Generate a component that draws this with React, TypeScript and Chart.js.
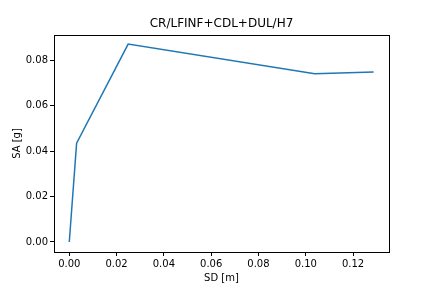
import React, { useEffect, useRef } from "react";
import { Chart, registerables } from "chart.js";

Chart.register(...registerables);

const titleText = "CR/LFINF+CDL+DUL/H7";
const xLabel = "SD [m]";
const yLabel = "SA [g]";
const sdValues = [0.0, 0.0031, 0.0249, 0.1038, 0.1287];
const saValues = [0.0, 0.0434, 0.087, 0.074, 0.0747];

const framePlugin = {
  id: "frame",
  afterDraw(chart: any) {
    const { ctx, chartArea } = chart;
    ctx.save();
    ctx.strokeStyle = "#000000";
    ctx.lineWidth = 1;
    ctx.strokeRect(
      Math.round(chartArea.left) + 0.5,
      Math.round(chartArea.top) + 0.5,
      Math.round(chartArea.right - chartArea.left),
      Math.round(chartArea.bottom - chartArea.top)
    );
    ctx.restore();
  },
};

export default function App() {
  const ref = useRef<HTMLCanvasElement | null>(null);
  useEffect(() => {
    if (!ref.current) return;
    const font = { family: "DejaVu Sans", size: 10 };
    const chart = new Chart(ref.current, {
      type: "line",
      data: {
        datasets: [
          {
            data: sdValues.map((x, i) => ({ x, y: saValues[i] })),
            borderColor: "#1f77b4",
            borderWidth: 1.5,
            pointRadius: 0,
            fill: false,
            tension: 0,
          },
        ],
      },
      options: {
        animation: false,
        responsive: false,
        layout: { padding: { left: 0, right: 43, top: 0, bottom: 0 } },
        plugins: {
          legend: { display: false },
          tooltip: { enabled: false },
          title: {
            display: true,
            text: titleText,
            fullSize: false,
            color: "#000000",
            font: { family: "DejaVu Sans", size: 12, weight: "normal" },
            padding: { top: 17, bottom: 3.6 },
          },
        },
        scales: {
          x: {
            type: "linear",
            min: -0.00646,
            max: 0.1352,
            afterFit: (s: any) => {
              s.height = 36;
            },
            afterBuildTicks: (s: any) => {
              s.ticks = [0, 0.02, 0.04, 0.06, 0.08, 0.1, 0.12].map((v) => ({ value: v }));
            },
            ticks: {
              color: "#000000",
              font,
              padding: 2,
              maxRotation: 0,
              autoSkip: false,
              callback: (v: any) => Number(v).toFixed(2),
            },
            grid: {
              drawOnChartArea: false,
              drawTicks: true,
              tickLength: 4,
              color: "#000000",
            },
            border: { display: true, color: "#000000" },
            title: {
              display: true,
              text: xLabel,
              color: "#000000",
              font,
              padding: { top: 0, bottom: 4 },
            },
          },
          y: {
            type: "linear",
            min: -0.0044,
            max: 0.091,
            afterFit: (s: any) => {
              s.width = 54;
            },
            afterBuildTicks: (s: any) => {
              s.ticks = [0, 0.02, 0.04, 0.06, 0.08].map((v) => ({ value: v }));
            },
            ticks: {
              color: "#000000",
              font,
              padding: 2,
              autoSkip: false,
              callback: (v: any) => Number(v).toFixed(2),
            },
            grid: {
              drawOnChartArea: false,
              drawTicks: true,
              tickLength: 4,
              color: "#000000",
            },
            border: { display: true, color: "#000000" },
            title: {
              display: true,
              text: yLabel,
              color: "#000000",
              font,
              padding: { top: 11, bottom: 0 },
            },
          },
        },
      },
      plugins: [framePlugin],
    } as any);
    return () => chart.destroy();
  }, []);
  return (
    <div style={{ position: "fixed", left: 0, top: 0, width: 432, height: 288, background: "#ffffff" }}>
      <canvas ref={ref} width={432} height={288} />
    </div>
  );
}
